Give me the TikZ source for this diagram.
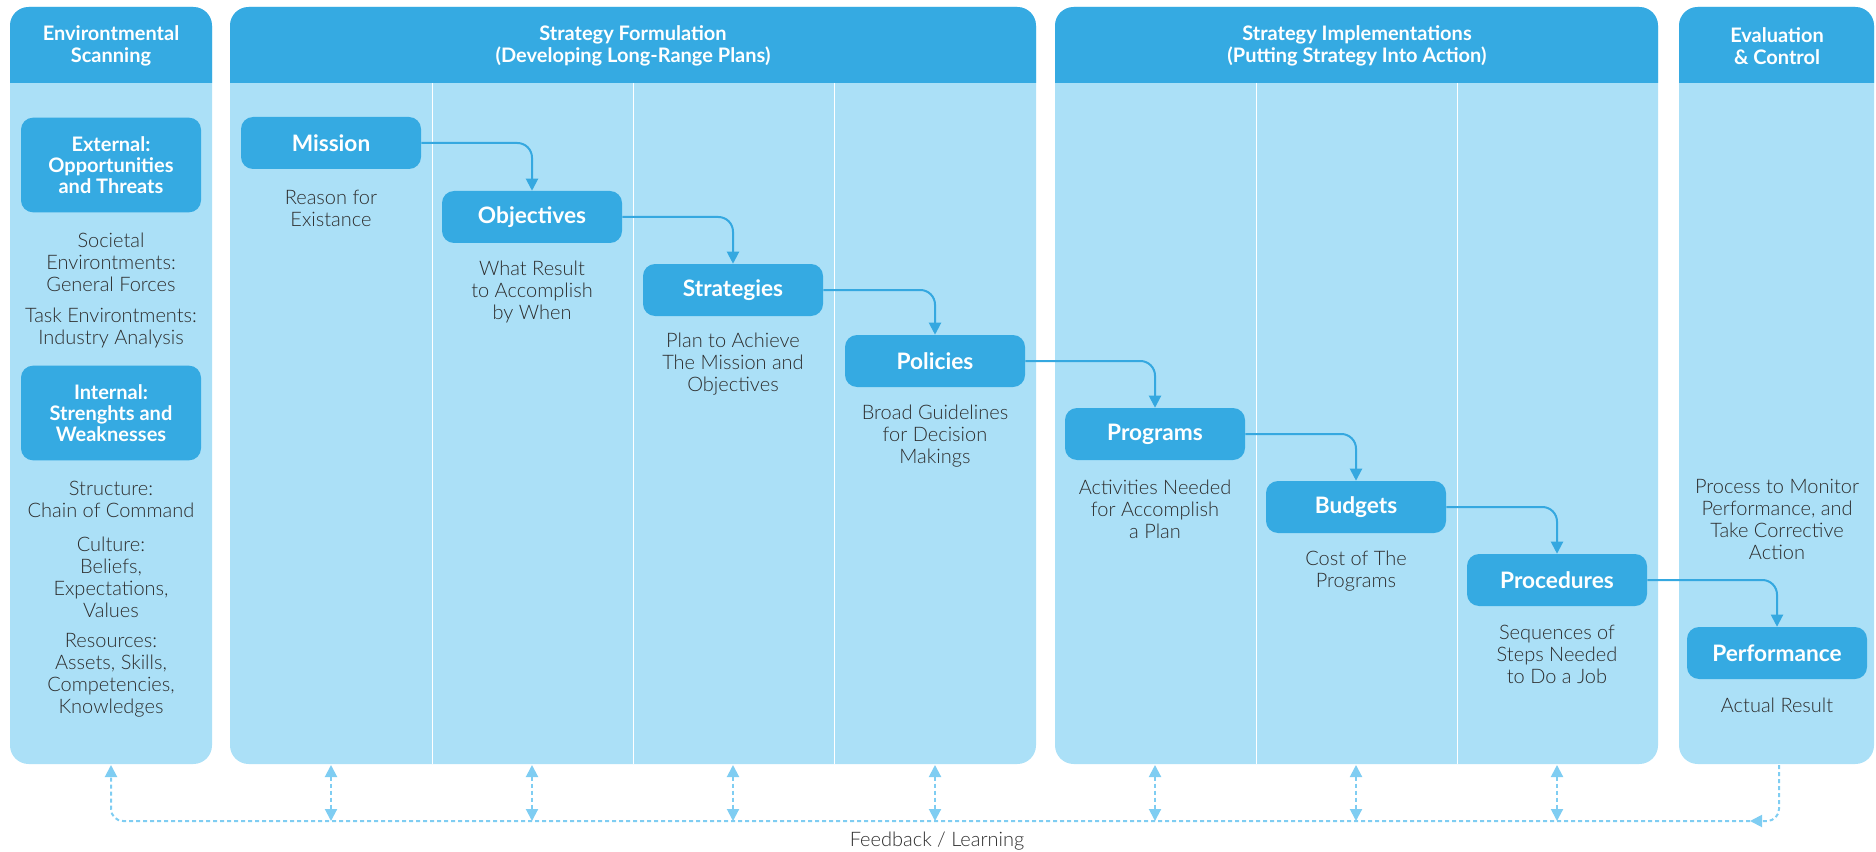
\documentclass[tikz,border=0pt]{standalone}
\usepackage{fontspec}
\setmainfont{Lato}
\newfontfamily\lightfont{Lato Light}
\usetikzlibrary{arrows.meta}

\begin{document}
\begin{tikzpicture}[x=0.75pt,y=0.75pt,yscale=-1,xscale=1,
  panelbody/.style={fill={rgb, 255:red, 171; green, 224; blue, 247 }},
  panelhead/.style={fill={rgb, 255:red, 53; green, 170; blue, 226 }},
  divider/.style={draw=white,line width=0.75pt},
  headtext/.style={text=white,font=\fontsize{15}{16.5}\selectfont\bfseries,align=center,inner sep=0.75pt},
  stepbox/.style={fill={rgb, 255:red, 53; green, 170; blue, 226 },rounded corners=9pt,text=white,font=\fontsize{17}{20}\selectfont\bfseries,minimum width=135pt,minimum height=39pt,inner sep=0.75pt},
  sidebox/.style={stepbox,font=\fontsize{15}{16}\selectfont\bfseries,minimum height=71pt,align=center},
  desc/.style={text={rgb, 255:red, 45; green, 45; blue, 45 },font=\fontsize{15}{16.5}\selectfont\lightfont,align=center,inner sep=0.75pt},
  flow/.style={draw={rgb, 255:red, 53; green, 168; blue, 224 },line width=1.5pt,rounded corners=11pt,-{Triangle[width=9pt,length=9pt]}},
  fb/.style={draw={rgb, 255:red, 127; green, 205; blue, 242 },line width=1.5pt,dash pattern=on 3pt off 2.25pt,rounded corners=9pt},
  fbboth/.style={fb,{Triangle[width=9pt,length=9pt]}-{Triangle[width=9pt,length=9pt]}},
  fbtip/.style={fb,-{Triangle[width=9pt,length=9pt]}}
]
\useasboundingbox (0,0) rectangle (1876,852);

%Panel: Environmental Scanning
\fill[panelbody,rounded corners=14pt] (10,7) rectangle (212,764);
\fill[panelhead] (10,83) [rounded corners=14pt] -- (10,7) -- (212,7) [sharp corners] -- (212,83) -- cycle;
%Panel: Strategy Formulation
\fill[panelbody,rounded corners=14pt] (230,7) rectangle (1036,764);
\fill[panelhead] (230,83) [rounded corners=14pt] -- (230,7) -- (1036,7) [sharp corners] -- (1036,83) -- cycle;
\draw[divider] (432,83) -- (432,764) (633,83) -- (633,764) (834,83) -- (834,764);
%Panel: Strategy Implementations
\fill[panelbody,rounded corners=14pt] (1055,7) rectangle (1658,764);
\fill[panelhead] (1055,83) [rounded corners=14pt] -- (1055,7) -- (1658,7) [sharp corners] -- (1658,83) -- cycle;
\draw[divider] (1256,83) -- (1256,764) (1457,83) -- (1457,764);
%Panel: Evaluation & Control
\fill[panelbody,rounded corners=14pt] (1679,7) rectangle (1874,764);
\fill[panelhead] (1679,83) [rounded corners=14pt] -- (1679,7) -- (1874,7) [sharp corners] -- (1874,83) -- cycle;

% Header Nodes
\node[headtext] (hdScan) at (111,46) {Environtmental\\Scanning};
\node[headtext] (hdForm) at (633,46) {Strategy Formulation\\(Developing Long-Range Plans)};
\node[headtext] (hdImpl) at (1357,46) {Strategy Implementations\\(Putting Strategy Into Action)};
\node[headtext] (hdEval) at (1777,46) {Evaluation\\\& Control};

% Environmental scanning column
\node[sidebox] (external) at (111,165) {External:\\Opportunities\\and Threats};
\node[desc] (societal) at (111,262) {Societal\\Environtments:\\General Forces};
\node[desc] (task) at (111,328) {Task Environtments:\\Industry Analysis};
\node[sidebox] (internal) at (111,413) {Internal:\\Strenghts and\\Weaknesses};
\node[desc] (structure) at (111,499) {Structure:\\Chain of Command};
\node[desc] (culture) at (111,577) {Culture:\\Beliefs,\\Expectations,\\Values};
\node[desc] (resources) at (111,675) {Resources:\\Assets, Skills,\\Competencies,\\Knowledges};

% Step Nodes
\node[stepbox] (mission) at (331,143) {Mission};
\node[stepbox] (objectives) at (532,217) {Objectives};
\node[stepbox] (strategies) at (733,290) {Strategies};
\node[stepbox] (policies) at (935,361) {Policies};
\node[stepbox] (programs) at (1155,434) {Programs};
\node[stepbox] (budgets) at (1356,507) {Budgets};
\node[stepbox] (procedures) at (1557,580) {Procedures};
\node[stepbox] (performance) at (1777,653) {Performance};

% Text Node
\node[desc] (missionTxt) at (331,208) {Reason for\\Existance};
\node[desc] (objectivesTxt) at (532,292) {What Result\\to Accomplish\\by When};
\node[desc] (strategiesTxt) at (733,364) {Plan to Achieve\\The Mission and\\Objectives};
\node[desc] (policiesTxt) at (935,436) {Broad Guidelines\\for Decision\\Makings};
\node[desc] (programsTxt) at (1155,509) {Activities Needed\\for Accomplish\\a Plan};
\node[desc] (budgetsTxt) at (1356,571) {Cost of The\\Programs};
\node[desc] (proceduresTxt) at (1557,654) {Sequences of\\Steps Needed\\to Do a Job};
\node[desc] (evalTxt) at (1777,519) {Process to Monitor\\Performance, and\\Take Corrective\\Action};
\node[desc] (performanceTxt) at (1777,705) {Actual Result};
\node[desc] (feedbackTxt) at (937,841) {Feedback / Learning};

% Flow Lines
\draw[flow] (mission.east) -| (objectives.north);
\draw[flow] (objectives.east) -| (strategies.north);
\draw[flow] (strategies.east) -| (policies.north);
\draw[flow] (policies.east) -| (programs.north);
\draw[flow] (programs.east) -| (budgets.north);
\draw[flow] (budgets.east) -| (procedures.north);
\draw[flow] (procedures.east) -| (performance.north);

% Feedback Lines
\coordinate (fbScan) at (111,765);
\coordinate (fbEval) at (1779,765);
\coordinate (fbJoin) at (1750,821);
\coordinate (fbTop1) at (331,765);  \coordinate (fbBot1) at (331,821);
\coordinate (fbTop2) at (532,765);  \coordinate (fbBot2) at (532,821);
\coordinate (fbTop3) at (733,765);  \coordinate (fbBot3) at (733,821);
\coordinate (fbTop4) at (935,765);  \coordinate (fbBot4) at (935,821);
\coordinate (fbTop5) at (1155,765); \coordinate (fbBot5) at (1155,821);
\coordinate (fbTop6) at (1356,765); \coordinate (fbBot6) at (1356,821);
\coordinate (fbTop7) at (1557,765); \coordinate (fbBot7) at (1557,821);
\draw[fbtip] (fbEval) |- (fbJoin);
\draw[fbtip] (fbJoin) -| (fbScan);
\draw[fbboth] (fbTop1) -- (fbBot1);
\draw[fbboth] (fbTop2) -- (fbBot2);
\draw[fbboth] (fbTop3) -- (fbBot3);
\draw[fbboth] (fbTop4) -- (fbBot4);
\draw[fbboth] (fbTop5) -- (fbBot5);
\draw[fbboth] (fbTop6) -- (fbBot6);
\draw[fbboth] (fbTop7) -- (fbBot7);

\end{tikzpicture}
\end{document}
